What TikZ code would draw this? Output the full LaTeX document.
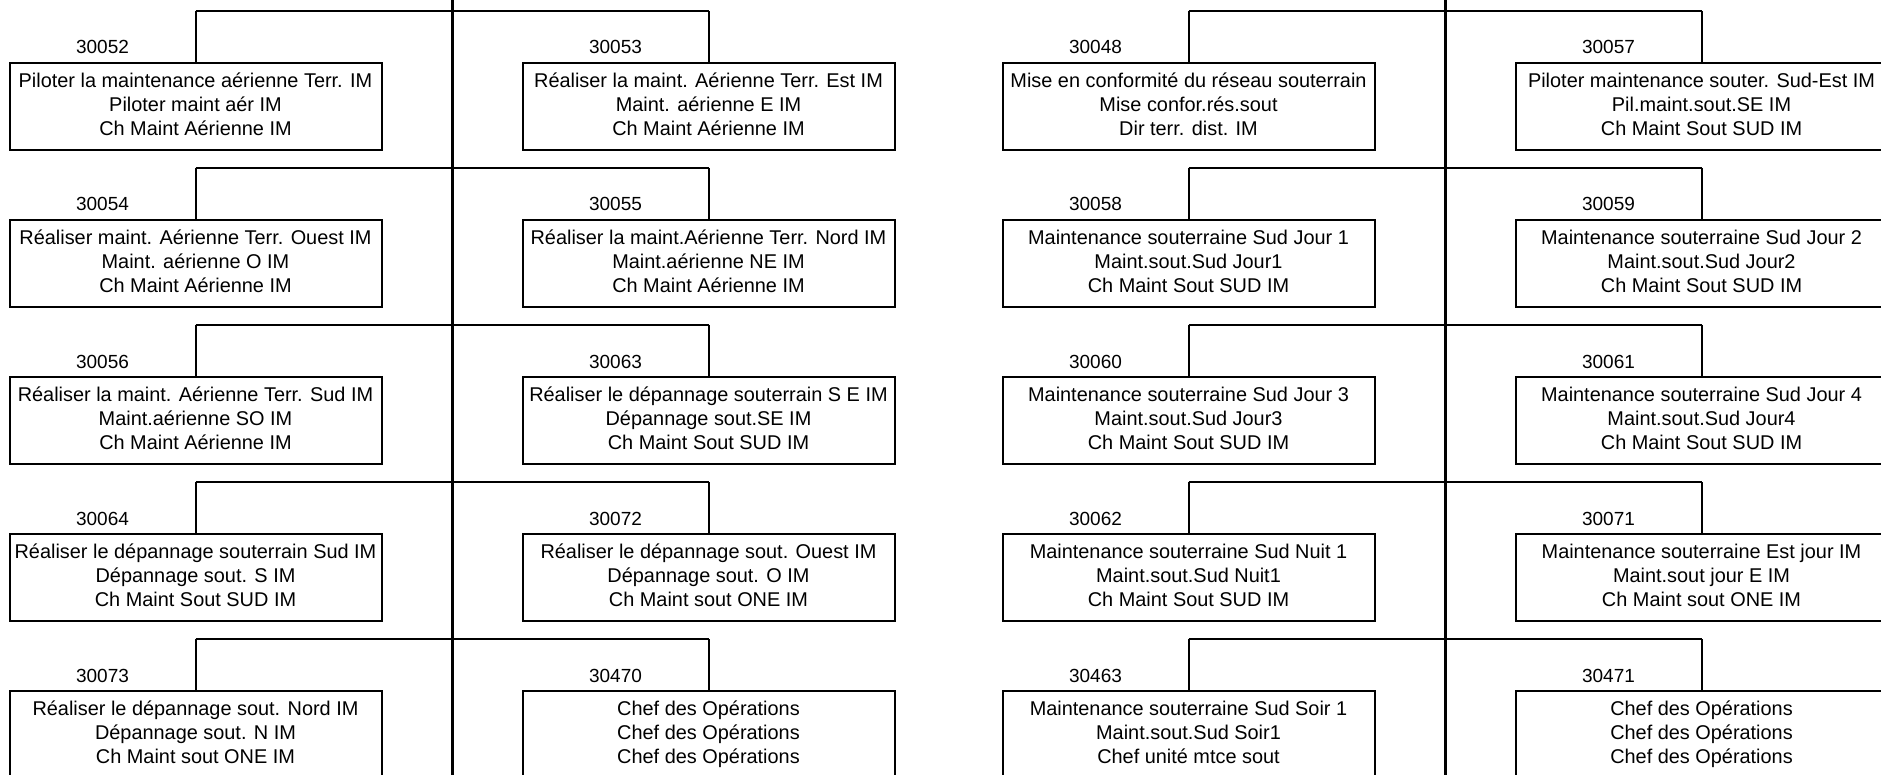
\documentclass[tikz,border=0pt]{standalone}
\usepackage{fontspec}
\setmainfont{Liberation Sans}
\newcommand\orgstrut{\rule[-7pt]{0pt}{24pt}}
\tikzset{
  orgnode/.style={draw=black, line width=2pt, rectangle, anchor=north,
    minimum width=372pt, minimum height=87pt, inner sep=0pt, align=center,
    font=\fontsize{19.9}{24}\selectfont},
  numlabel/.style={anchor=base, inner sep=0pt, font=\fontsize{19}{23}\selectfont},
  hline/.style={draw=black, line width=2pt},
  trunk/.style={draw=black, line width=2.8pt}
}
\newcommand\orgbox[7]{%
  \pgfmathsetmacro\orgbx{#2+186}%
  \pgfmathsetmacro\orgbt{62+157*#3}%
  \pgfmathsetmacro\orglx{#2+93}%
  \pgfmathsetmacro\orgly{\orgbt-8}%
  \node[orgnode] (#1) at (\orgbx,\orgbt) {\orgstrut #5\\\orgstrut #6\\\orgstrut #7};
  \node[numlabel] (#1lab) at (\orglx,\orgly) {#4};
}
\begin{document}
\begin{tikzpicture}[x=1pt,y=-1pt]
\useasboundingbox (0,0) rectangle (1881,775);
\fill[white] (0,0) rectangle (1881,775);
\clip (0,0) rectangle (1881,775);

% left group
\orgbox{a0}{9.5}{0}{30052}{Piloter la maintenance aérienne Terr. IM}{Piloter maint aér IM}{Ch Maint Aérienne IM}
\orgbox{b0}{522.5}{0}{30053}{Réaliser la maint. Aérienne Terr. Est IM}{Maint. aérienne E IM}{Ch Maint Aérienne IM}
\orgbox{a1}{9.5}{1}{30054}{Réaliser maint. Aérienne Terr. Ouest IM}{Maint. aérienne O IM}{Ch Maint Aérienne IM}
\orgbox{b1}{522.5}{1}{30055}{Réaliser la maint.Aérienne Terr. Nord IM}{Maint.aérienne NE IM}{Ch Maint Aérienne IM}
\orgbox{a2}{9.5}{2}{30056}{Réaliser la maint. Aérienne Terr. Sud IM}{Maint.aérienne SO IM}{Ch Maint Aérienne IM}
\orgbox{b2}{522.5}{2}{30063}{Réaliser le dépannage souterrain S E IM}{Dépannage sout.SE IM}{Ch Maint Sout SUD IM}
\orgbox{a3}{9.5}{3}{30064}{Réaliser le dépannage souterrain Sud IM}{Dépannage sout. S IM}{Ch Maint Sout SUD IM}
\orgbox{b3}{522.5}{3}{30072}{Réaliser le dépannage sout. Ouest IM}{Dépannage sout. O IM}{Ch Maint sout ONE IM}
\orgbox{a4}{9.5}{4}{30073}{Réaliser le dépannage sout. Nord IM}{Dépannage sout. N IM}{Ch Maint sout ONE IM}
\orgbox{b4}{522.5}{4}{30470}{Chef des Opérations}{Chef des Opérations}{Chef des Opérations}

% right group
\orgbox{c0}{1002.5}{0}{30048}{Mise en conformité du réseau souterrain}{Mise confor.rés.sout}{Dir terr. dist. IM}
\orgbox{d0}{1515.5}{0}{30057}{Piloter maintenance souter. Sud-Est IM}{Pil.maint.sout.SE IM}{Ch Maint Sout SUD IM}
\orgbox{c1}{1002.5}{1}{30058}{Maintenance souterraine Sud Jour 1}{Maint.sout.Sud Jour1}{Ch Maint Sout SUD IM}
\orgbox{d1}{1515.5}{1}{30059}{Maintenance souterraine Sud Jour 2}{Maint.sout.Sud Jour2}{Ch Maint Sout SUD IM}
\orgbox{c2}{1002.5}{2}{30060}{Maintenance souterraine Sud Jour 3}{Maint.sout.Sud Jour3}{Ch Maint Sout SUD IM}
\orgbox{d2}{1515.5}{2}{30061}{Maintenance souterraine Sud Jour 4}{Maint.sout.Sud Jour4}{Ch Maint Sout SUD IM}
\orgbox{c3}{1002.5}{3}{30062}{Maintenance souterraine Sud Nuit 1}{Maint.sout.Sud Nuit1}{Ch Maint Sout SUD IM}
\orgbox{d3}{1515.5}{3}{30071}{Maintenance souterraine Est jour IM}{Maint.sout jour E IM}{Ch Maint sout ONE IM}
\orgbox{c4}{1002.5}{4}{30463}{Maintenance souterraine Sud Soir 1}{Maint.sout.Sud Soir1}{Chef unité mtce sout}
\orgbox{d4}{1515.5}{4}{30471}{Chef des Opérations}{Chef des Opérations}{Chef des Opérations}

% connectors
\foreach \r in {0,...,4} {
  \pgfmathsetmacro\hy{11+157*\r}
  \coordinate (hA\r) at (195.5,\hy);
  \coordinate (hB\r) at (708.5,\hy);
  \coordinate (hC\r) at (1188.5,\hy);
  \coordinate (hD\r) at (1701.5,\hy);
  \draw[hline] (hA\r) -- (hB\r);
  \draw[hline] (hC\r) -- (hD\r);
  \draw[hline] (hA\r) -- (a\r.north);
  \draw[hline] (hB\r) -- (b\r.north);
  \draw[hline] (hC\r) -- (c\r.north);
  \draw[hline] (hD\r) -- (d\r.north);
}

% trunks
\coordinate (tLtop) at (452.5,-5);
\coordinate (tLbot) at (452.5,780);
\coordinate (tRtop) at (1445.5,-5);
\coordinate (tRbot) at (1445.5,780);
\draw[trunk] (tLtop) -- (tLbot);
\draw[trunk] (tRtop) -- (tRbot);
\end{tikzpicture}
\end{document}
